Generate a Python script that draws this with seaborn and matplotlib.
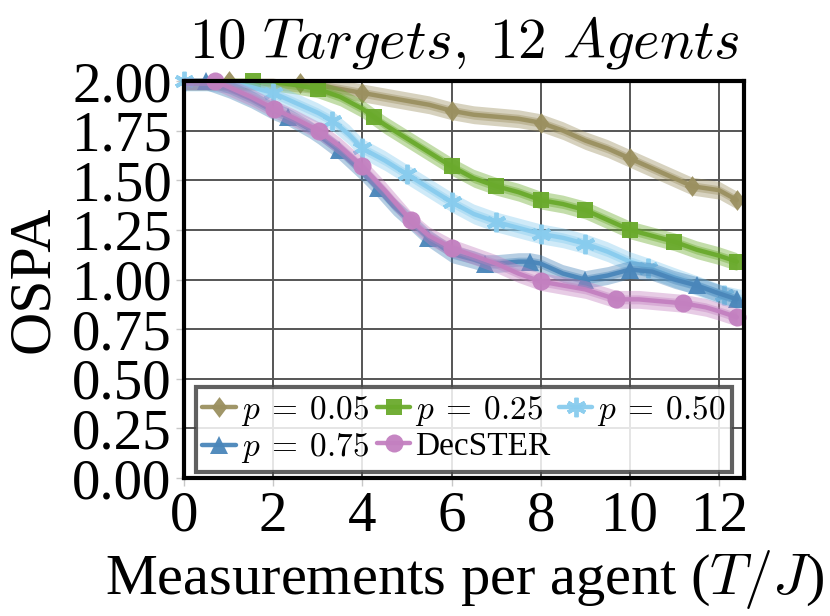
import matplotlib
matplotlib.use("Agg")
import matplotlib.pyplot as plt
import seaborn as sns

# ----------------------------
# Dados lidos da figura (OSPA x medições por agente)
labels = [r"$p\:=\:0.05$", r"$p\:=\:0.25$", r"$p\:=\:0.50$", r"$p\:=\:0.75$", "DecSTER"]

x_p05 = [0, 0.5, 1.0, 1.5, 2.0, 2.6, 3.0, 3.5, 4.0, 4.5, 5.0, 5.5, 6.0, 6.5, 7.0,
         7.5, 8.0, 8.5, 9.0, 9.5, 10.0, 10.5, 11.0, 11.4, 12.0, 12.4]
y_p05 = [2.0, 2.0, 2.0, 2.0, 2.0, 1.99, 1.98, 1.96, 1.94, 1.92, 1.90, 1.88, 1.85, 1.83, 1.82,
         1.81, 1.79, 1.75, 1.70, 1.66, 1.61, 1.56, 1.51, 1.47, 1.45, 1.40]
m_p05 = [1.0, 2.6, 4.0, 6.0, 8.0, 10.0, 11.4, 12.4]

x_p25 = [0, 0.5, 1.0, 1.55, 2.0, 2.5, 3.0, 3.5, 4.0, 4.25, 4.5, 5.0, 5.5, 6.0, 6.5, 7.0,
         7.5, 8.0, 8.5, 9.0, 9.5, 10.0, 10.5, 11.0, 11.5, 12.0, 12.4]
y_p25 = [2.0, 2.0, 2.0, 2.0, 1.995, 1.98, 1.96, 1.92, 1.86, 1.82, 1.78, 1.71, 1.64, 1.57, 1.51, 1.47,
         1.44, 1.40, 1.38, 1.35, 1.30, 1.25, 1.22, 1.19, 1.15, 1.12, 1.09]
m_p25 = [1.55, 3.0, 4.25, 6.0, 7.0, 8.0, 9.0, 10.0, 11.0, 12.4]

x_p50 = [0, 0.5, 1.0, 1.5, 2.0, 2.5, 3.0, 3.33, 3.7, 4.0, 4.5, 5.0, 5.5, 6.0, 6.5, 7.0,
         7.5, 8.0, 8.5, 9.0, 9.5, 10.0, 10.4, 11.0, 11.5, 12.1, 12.5]
y_p50 = [2.0, 2.0, 1.99, 1.97, 1.94, 1.89, 1.84, 1.80, 1.73, 1.66, 1.60, 1.53, 1.46, 1.39, 1.33, 1.29,
         1.26, 1.23, 1.21, 1.18, 1.14, 1.09, 1.06, 1.01, 0.97, 0.92, 0.90]
m_p50 = [0, 2.0, 3.33, 4.0, 5.0, 6.0, 7.0, 8.0, 9.0, 10.4, 12.1]

x_p75 = [0, 0.5, 1.0, 1.5, 2.0, 2.33, 2.8, 3.0, 3.47, 4.0, 4.34, 4.7, 5.0, 5.48, 6.0, 6.5,
         6.76, 7.0, 7.5, 7.76, 8.0, 8.5, 9.0, 9.5, 10.0, 10.5, 11.0, 11.5, 12.0, 12.4]
y_p75 = [2.0, 2.0, 1.96, 1.91, 1.85, 1.82, 1.76, 1.73, 1.65, 1.54, 1.46, 1.37, 1.31, 1.21, 1.13, 1.10,
         1.08, 1.08, 1.09, 1.09, 1.08, 1.03, 1.00, 1.02, 1.05, 1.04, 1.00, 0.97, 0.93, 0.90]
m_p75 = [0.5, 2.33, 3.47, 4.34, 5.48, 6.76, 7.76, 9.0, 10.0, 11.5, 12.4]

x_dec = [0, 0.7, 1.0, 1.5, 2.02, 2.5, 3.02, 3.5, 4.0, 4.5, 5.08, 5.5, 6.0, 6.5, 7.0, 7.5,
         8.0, 8.5, 9.0, 9.7, 10.2, 10.7, 11.2, 11.7, 12.0, 12.4]
y_dec = [2.0, 2.0, 1.97, 1.92, 1.86, 1.81, 1.75, 1.67, 1.57, 1.45, 1.30, 1.22, 1.16, 1.12, 1.08, 1.03,
         0.99, 0.97, 0.95, 0.90, 0.90, 0.89, 0.88, 0.86, 0.84, 0.81]
m_dec = [0.7, 2.02, 3.02, 4.0, 5.08, 6.0, 8.0, 9.7, 11.2, 12.4]

# meia largura das faixas de incerteza
banda = [0.045, 0.045, 0.05, 0.045, 0.045]

x_ticks = [0, 2, 4, 6, 8, 10, 12]
y_ticks = [0.00, 0.25, 0.50, 0.75, 1.00, 1.25, 1.50, 1.75, 2.00]

# ----------------------------
# Estilo
sns.set_theme(style="whitegrid")
plt.rcParams["font.family"] = ["Liberation Serif", "DejaVu Serif"]
plt.rcParams["mathtext.fontset"] = "cm"
plt.rcParams["text.color"] = "black"
plt.rcParams["axes.labelcolor"] = "black"
plt.rcParams["xtick.labelcolor"] = "black"
plt.rcParams["ytick.labelcolor"] = "black"

cores = ["#9b9060", "#6aaa2c", "#88ccee", "#4a86ba", "#c380c0"]
losango = [(0, 1), (0.75, 0), (0, -1), (-0.75, 0)]
marcadores = [losango, "s", (6, 2, 0), "^", "o"]
tamanhos = [15, 11.5, 14, 13.5, 13]

series = [(x_p05, y_p05, m_p05), (x_p25, y_p25, m_p25), (x_p50, y_p50, m_p50),
          (x_p75, y_p75, m_p75), (x_dec, y_dec, m_dec)]

fig, ax = plt.subplots(figsize=(8.3, 6.16), dpi=100)
fig.subplots_adjust(left=0.2217, right=0.8964, top=0.8685, bottom=0.224)

for i, (xs, ys, ms) in enumerate(series):
    lo1 = [v - banda[i] for v in ys]
    hi1 = [v + banda[i] for v in ys]
    lo2 = [v - banda[i] / 2 for v in ys]
    hi2 = [v + banda[i] / 2 for v in ys]
    ax.fill_between(xs, lo1, hi1, color=cores[i], alpha=0.4, lw=0, zorder=2 + i)
    ax.fill_between(xs, lo2, hi2, color=cores[i], alpha=0.4, lw=0, zorder=2 + i)
    idx = [xs.index(m) for m in ms]
    sns.lineplot(x=xs, y=ys, ax=ax, color=cores[i], lw=3.2, marker=marcadores[i],
                 markersize=tamanhos[i], markevery=idx, mew=2.8 if i == 2 else 0,
                 mec=cores[i], alpha=0.95, label=labels[i], clip_on=False,
                 zorder=3 + i, sort=False)

ax.set_xlim(0, 12.56)
ax.set_ylim(0, 2.0)
ax.set_xticks(x_ticks)
ax.set_yticks(y_ticks)
ax.set_yticklabels([f"{v:.2f}" for v in y_ticks])
ax.tick_params(labelsize=41, length=6, width=1, color="#c8c8c8", pad=3,
               bottom=True, left=True)
ax.grid(True, color="#555555", lw=1.4)
for s in ax.spines.values():
    s.set_color("black")
    s.set_linewidth(3)
    s.set_zorder(20)

ax.set_title(r"$10\ Targets,\:12\ Agents$", fontsize=41, pad=17)
ax.set_xlabel(r"Measurements per agent ($T/J$)", fontsize=42, labelpad=4)
ax.set_ylabel("OSPA", fontsize=43, labelpad=8)

h, l = ax.get_legend_handles_labels()
ordem = [0, 3, 1, 4, 2]
leg = ax.legend([h[k] for k in ordem], [l[k] for k in ordem], ncol=3,
                loc="lower center", bbox_to_anchor=(0.5, 0.015), fontsize=24,
                fancybox=False, edgecolor="#444444", framealpha=0.85,
                handlelength=1.0, handletextpad=0.15, columnspacing=0.25,
                borderpad=0.2, labelspacing=0.1, borderaxespad=0)
leg.get_frame().set_linewidth(3)
leg.set_zorder(30)

plt.savefig("out.png", dpi=100)
